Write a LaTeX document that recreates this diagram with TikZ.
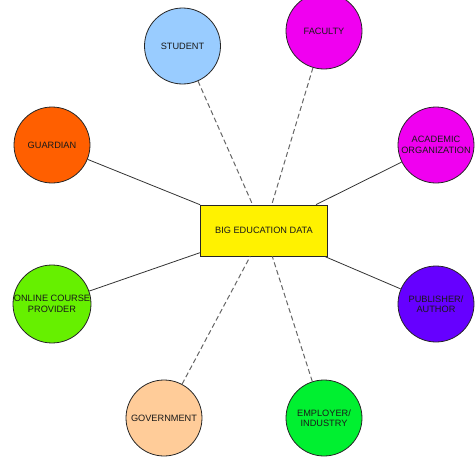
\documentclass[tikz,border=0pt]{standalone}
\usepackage{fontspec}
\setmainfont{Liberation Sans}
\definecolor{cStudent}{HTML}{99CCFF}
\definecolor{cGuard}{HTML}{FF5F00}
\definecolor{cFac}{HTML}{F000F0}
\definecolor{cOnline}{HTML}{66F000}
\definecolor{cGov}{HTML}{FFCC99}
\definecolor{cPub}{HTML}{6600FF}
\definecolor{cEmp}{HTML}{00F030}
\definecolor{cLine}{HTML}{333333}
\definecolor{cDash}{HTML}{666666}
\begin{document}
\begin{tikzpicture}[x=1pt,y=-1pt,
  actor/.style={circle,draw=black!85,line width=0.8pt,minimum size=76pt,inner sep=0pt,align=center,
    font=\fontsize{9.2}{10.5}\selectfont,text=black!90},
  hub/.style={rectangle,draw=black!85,line width=0.8pt,fill=yellow,minimum width=127pt,minimum height=51pt,
    font=\fontsize{9.2}{10.5}\selectfont,text=black!90},
  solidconn/.style={draw=cLine,line width=0.8pt},
  dashconn/.style={draw=cDash,line width=1pt,dash pattern=on 5pt off 3pt}]
\useasboundingbox (0,0) rectangle (475,458);
\node[hub] (r) at (264,230.5) {BIG EDUCATION DATA};
\node[actor,fill=cStudent] (st) at (182.5,46) {STUDENT};
\node[actor,fill=cFac] (fa) at (324,31) {FACULTY};
\node[actor,fill=cGuard] (gu) at (52,145) {GUARDIAN};
\node[actor,fill=cFac] (ac) at (436,145) {ACADEMIC\\ORGANIZATION};
\node[actor,fill=cOnline] (on) at (52,304) {ONLINE COURSE\\PROVIDER};
\node[actor,fill=cPub] (pu) at (436,304) {PUBLISHER/\\AUTHOR};
\node[actor,fill=cGov] (go) at (164,418) {GOVERNMENT};
\node[actor,fill=cEmp] (em) at (324,418) {EMPLOYER/\\INDUSTRY};
\draw[solidconn] (gu) -- (r);
\draw[solidconn] (ac) -- (r);
\draw[solidconn] (on) -- (r);
\draw[solidconn] (pu) -- (r);
\draw[dashconn] (st) -- (r);
\draw[dashconn] (fa) -- (r);
\draw[dashconn] (go) -- (r);
\draw[dashconn] (em) -- (r);
\end{tikzpicture}
\end{document}
